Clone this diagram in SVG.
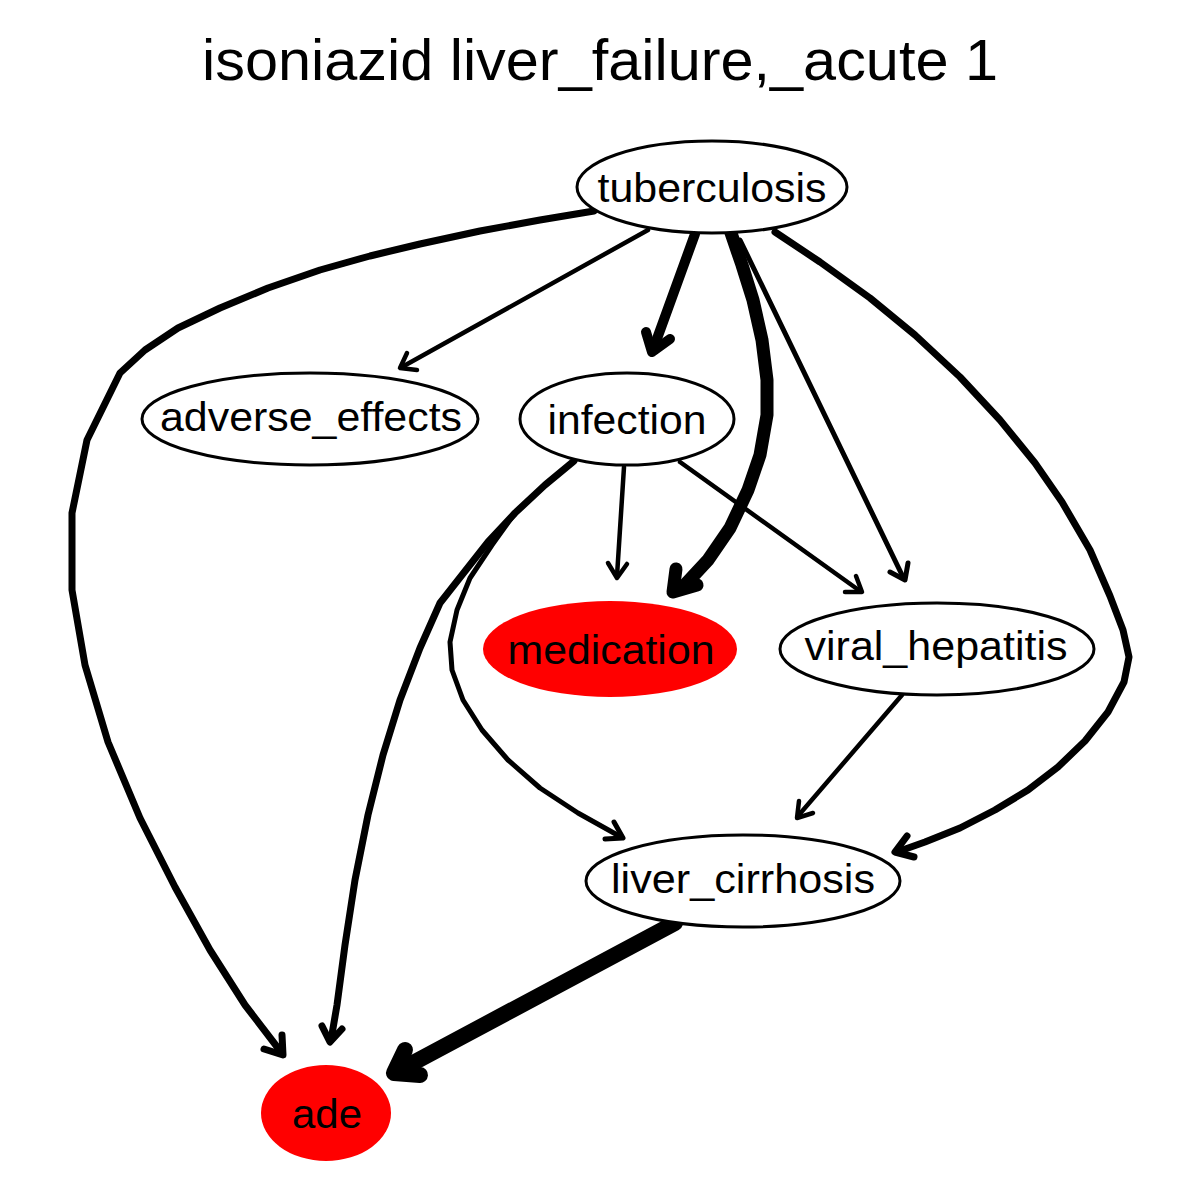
<svg xmlns="http://www.w3.org/2000/svg" width="1200" height="1200" viewBox="0 0 1200 1200">
<style>
text{font-family:"Liberation Sans",Arial,sans-serif;fill:#000;text-anchor:middle}
.n{font-size:41px}
.t{font-size:58px}
.o{fill:#fff;stroke:#000;stroke-width:3}
.r{fill:#f00;stroke:none}
.e{fill:none;stroke:#000;stroke-linecap:round;stroke-linejoin:round}
</style>
<rect width="1200" height="1200" fill="#fff"/>
<text class="t" x="600" y="80" textLength="796" lengthAdjust="spacingAndGlyphs">isoniazid liver_failure,_acute 1</text>
<g id="edges">
<g id="e_tb_ade"><polyline class="e" stroke-width="7" points="594,211 540,220 480,231 420,244 370,256 320,270 268,288 220,308 178,328 145,350 120,373 87,440 72,513 72,590 85,665 108,742 140,818 175,887 210,950 245,1005 281,1052"/><polyline class="e" stroke-width="7" points="282,1035 283,1055 264,1049"/></g>
<g id="e_tb_adv"><polyline class="e" stroke-width="4.5" points="648,230 402,367"/><polyline class="e" stroke-width="4.5" points="407,353 400,368 417,370"/></g>
<g id="e_tb_inf"><polyline class="e" stroke-width="10" points="695,234 654,347"/><polyline class="e" stroke-width="10" points="646,332 652,352 670,339"/></g>
<g id="e_tb_med"><polyline class="e" stroke-width="13" points="731,233 742,265 753,300 762,340 767,380 767,415 760,455 748,490 730,528 708,560 682,588"/><polyline class="e" stroke-width="13" points="676,569 673,592 697,585"/></g>
<g id="e_tb_vh"><polyline class="e" stroke-width="5" points="740,240 903,577"/><polyline class="e" stroke-width="5" points="908,563 905,580 890,572"/></g>
<g id="e_tb_lc"><polyline class="e" stroke-width="7" points="775,232 820,262 870,298 915,335 960,377 1000,420 1035,463 1062,502 1090,550 1110,596 1123,630 1129,657 1124,682 1108,712 1085,741 1058,767 1028,790 995,810 960,828 925,842 897,852"/><polyline class="e" stroke-width="7" points="907,836 895,852 914,857"/></g>
<g id="e_inf_med"><polyline class="e" stroke-width="4.5" points="624,467 617,576"/><polyline class="e" stroke-width="4.5" points="608,563 617,578 627,564"/></g>
<g id="e_inf_vh"><polyline class="e" stroke-width="4.5" points="680,462 860,591"/><polyline class="e" stroke-width="4.5" points="856,576 862,592 845,592"/></g>
<g id="e_inf_lc"><polyline class="e" stroke-width="5" points="574,461 545,485 515,513 492,545 470,578 457,610 450,642 452,670 463,700 482,730 508,760 540,788 578,813 621,837"/><polyline class="e" stroke-width="5" points="614,822 623,838 605,839"/></g>
<g id="e_inf_ade"><polyline class="e" stroke-width="7" points="574,461 545,485 515,513 488,542 462,575 440,603 420,648 400,700 383,755 368,815 355,880 345,945 337,1005 331,1040"/><polyline class="e" stroke-width="7" points="322,1026 330,1042 342,1029"/></g>
<g id="e_vh_lc"><polyline class="e" stroke-width="4.5" points="902,695 798,816"/><polyline class="e" stroke-width="4.5" points="799,801 797,818 813,813"/></g>
<g id="e_lc_ade"><polyline class="e" stroke-width="16" points="675,923 398,1071"/><polyline class="e" stroke-width="16" points="405,1050 394,1073 420,1075"/></g>
</g>
<g id="tuberculosis"><ellipse class="o" cx="712" cy="187" rx="135" ry="46"/><text class="n" x="712" y="202" textLength="229" lengthAdjust="spacingAndGlyphs">tuberculosis</text></g>
<g id="adverse_effects"><ellipse class="o" cx="310" cy="419" rx="168" ry="46"/><text class="n" x="311" y="431" textLength="302" lengthAdjust="spacingAndGlyphs">adverse_effects</text></g>
<g id="infection"><ellipse class="o" cx="627" cy="419" rx="107" ry="46"/><text class="n" x="627" y="434" textLength="159" lengthAdjust="spacingAndGlyphs">infection</text></g>
<g id="medication"><ellipse class="r" cx="610" cy="649" rx="127" ry="48"/><text class="n" x="611" y="664" textLength="207" lengthAdjust="spacingAndGlyphs">medication</text></g>
<g id="viral_hepatitis"><ellipse class="o" cx="937" cy="649" rx="157" ry="46"/><text class="n" x="936" y="660" textLength="263" lengthAdjust="spacingAndGlyphs">viral_hepatitis</text></g>
<g id="liver_cirrhosis"><ellipse class="o" cx="743" cy="881" rx="157" ry="46"/><text class="n" x="743" y="893" textLength="264" lengthAdjust="spacingAndGlyphs">liver_cirrhosis</text></g>
<g id="ade"><ellipse class="r" cx="326" cy="1113" rx="65" ry="48"/><text class="n" x="327" y="1128" textLength="70" lengthAdjust="spacingAndGlyphs">ade</text></g>
</svg>
